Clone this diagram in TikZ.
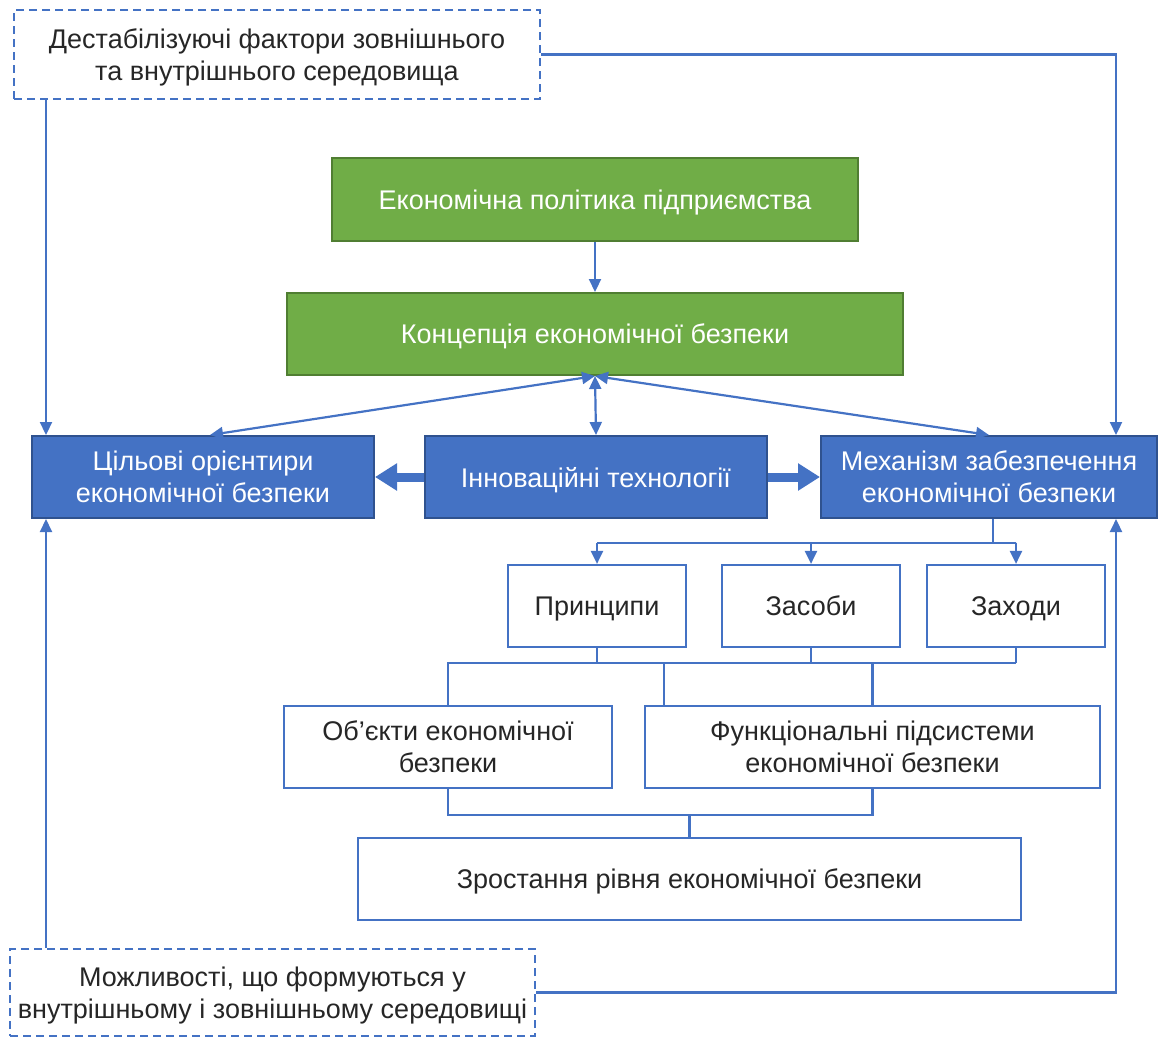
\documentclass[tikz,border=0pt]{standalone}
\usepackage{fontspec}
\setmainfont{Liberation Sans}
\usetikzlibrary{arrows.meta,positioning,calc}
\definecolor{bluef}{HTML}{4472C4}
\definecolor{blued}{HTML}{2F528F}
\definecolor{greenf}{HTML}{70AD47}
\definecolor{greend}{HTML}{507E32}
\definecolor{txt}{HTML}{262626}
\begin{document}
\begin{tikzpicture}[x=1pt,y=-1pt,
  every node/.style={font=\fontsize{27}{32}\selectfont, align=center, inner sep=0pt, text depth=0pt},
  greenbox/.style={draw=greend, fill=greenf, line width=2pt, text=white},
  bluebox/.style={draw=blued, fill=bluef, line width=2pt, text=white},
  whitebox/.style={draw=bluef, fill=white, line width=2.2pt, text=txt},
  dashbox/.style={draw=bluef, fill=white, line width=2pt, dash pattern=on 8pt off 5pt, text=txt},
  conn/.style={draw=bluef, line width=2.2pt},
  arr/.style={conn, -{Triangle[length=13pt,width=12pt]}},
  darr/.style={conn, {Triangle[length=13pt,width=12pt]}-{Triangle[length=13pt,width=12pt]}},
  fatarr/.style={draw=bluef, line width=9pt, -{Triangle[length=22pt,width=26pt]}}
]
\useasboundingbox (0,0) rectangle (1158,1037);

\node[dashbox, minimum width=526pt, minimum height=89pt] (dtop) at (277,54.5)
  {Дестабілізуючі фактори зовнішнього\\та внутрішнього середовища};
\node[greenbox, minimum width=526pt, minimum height=83pt] (g1) at (595,199.5)
  {Економічна політика підприємства};
\node[greenbox, minimum width=616pt, minimum height=82pt] (g2) at (595,334)
  {Концепція економічної безпеки};
\node[bluebox, minimum width=342pt, minimum height=82pt] (bl) at (203,477)
  {Цільові орієнтири\\економічної безпеки};
\node[bluebox, minimum width=342pt, minimum height=82pt] (bm) at (596,477)
  {Інноваційні технології};
\node[bluebox, minimum width=336pt, minimum height=82pt] (br) at (989,477)
  {Механізм забезпечення\\економічної безпеки};
\node[whitebox, minimum width=178pt, minimum height=82pt] (p1) at (597,606) {Принципи};
\node[whitebox, minimum width=178pt, minimum height=82pt] (p2) at (811,606) {Засоби};
\node[whitebox, minimum width=178pt, minimum height=82pt] (p3) at (1016,606) {Заходи};
\node[whitebox, minimum width=328pt, minimum height=82pt] (ob) at (448,747)
  {Об’єкти економічної\\безпеки};
\node[whitebox, minimum width=455pt, minimum height=82pt] (fn) at (872.5,747)
  {Функціональні підсистеми\\економічної безпеки};
\node[whitebox, minimum width=663pt, minimum height=82pt] (zr) at (689.5,879)
  {Зростання рівня економічної безпеки};
\node[dashbox, minimum width=525pt, minimum height=87pt] (dbot) at (272.5,992.5)
  {Можливості, що формуються у\\внутрішньому і зовнішньому середовищі};

% outer feedback lines
\draw[arr] ([xshift=15pt]bl.north west |- dtop.south) -- ([xshift=15pt]bl.north west);
\draw[arr] (dtop.east) -| ([xshift=127pt]br.north);
\draw[arr] ([xshift=15pt]bl.south west |- dbot.north) -- ([xshift=15pt]bl.south west);
\draw[arr] (dbot.east) -| ([xshift=127pt]br.south);

% top chain
\draw[arr] (g1.south) -- (g2.north);
\draw[darr] (g2.south) -- ([xshift=7pt]bl.north);
\draw[darr] (g2.south) -- (bm.north);
\draw[darr] (g2.south) -- (br.north);

% thick arrows
\draw[fatarr] (bm.west) -- (bl.east);
\draw[fatarr] (bm.east) -- (br.east -| br.west);

% mechanism to three boxes
\coordinate (bus1) at ($(br.south)+(0,24)$);
\draw[conn] ([xshift=4pt]br.south) -- ([xshift=4pt]br.south |- bus1);
\draw[conn] (p1.north |- bus1) -- (p3.north |- bus1) -- ([xshift=4pt]br.south |- bus1);
\draw[arr] (p1.north |- bus1) -- (p1.north);
\draw[arr] (p2.north |- bus1) -- (p2.north);
\draw[arr] (p3.north |- bus1) -- (p3.north);

% lower bus
\coordinate (bus2) at ($(p1.south)+(0,15)$);
\draw[conn] (p1.south) -- (p1.south |- bus2);
\draw[conn] (p2.south) -- (p2.south |- bus2);
\draw[conn] (p3.south) -- (p3.south |- bus2);
\draw[conn] (ob.north) -- (ob.north |- bus2) -- (p3.south |- bus2);
\draw[conn] ([xshift=20pt]fn.north west |- bus2) -- ([xshift=20pt]fn.north west);
\draw[conn] (fn.north |- bus2) -- (fn.north);

% to growth
\coordinate (bus3) at ($(ob.south)+(0,26)$);
\draw[conn] (ob.south) -- (ob.south |- bus3) -- (fn.south |- bus3) -- (fn.south);
\draw[conn] (zr.north |- bus3) -- (zr.north);
\end{tikzpicture}
\end{document}
